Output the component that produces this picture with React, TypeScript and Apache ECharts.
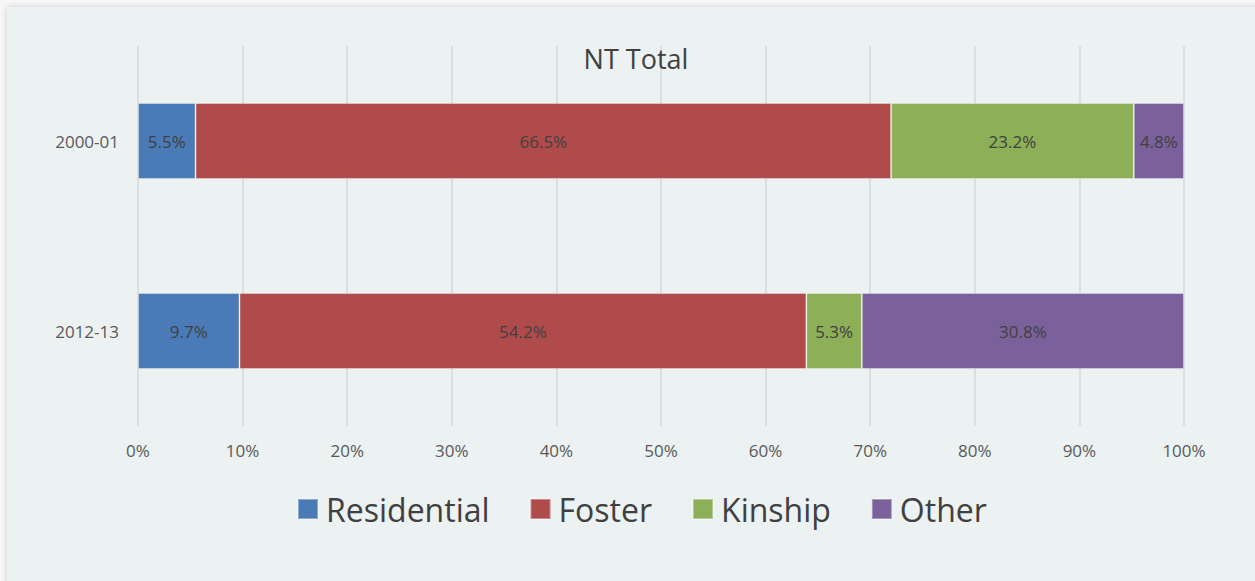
import React, { useEffect, useRef } from "react";
import * as echarts from "echarts";

const categories = ["2000-01", "2012-13"];
const seriesNames = ["Residential", "Foster", "Kinship", "Other"];
const residential = [5.5, 9.7];
const foster = [66.5, 54.2];
const kinship = [23.2, 5.3];
const other = [4.8, 30.8];
const colors = ["#4A7BB6", "#B04B4B", "#8DAF58", "#7A619B"];
const title = "NT Total";

export default function App() {
  const ref = useRef<HTMLDivElement>(null);
  useEffect(() => {
    if (!ref.current) return;
    const chart = echarts.init(ref.current, null, { renderer: "svg" });
    const values = [residential, foster, kinship, other];
    const font = "'Open Sans', 'Noto Sans', sans-serif";
    chart.setOption({
      animation: false,
      backgroundColor: "transparent",
      textStyle: { fontFamily: font },
      title: {
        text: title,
        left: 631,
        textAlign: "center",
        top: 40,
        textStyle: { fontFamily: font, fontSize: 27, fontWeight: "normal", color: "#404040" },
      },
      legend: {
        data: seriesNames,
        left: 292,
        top: 488,
        icon: "rect",
        itemWidth: 20,
        itemHeight: 20,
        itemGap: 40,
        textStyle: { fontFamily: font, fontSize: 32, color: "#404040", padding: [0, 0, 0, 3] },
      },
      grid: { left: 138, right: 71, top: 46, bottom: 155, containLabel: false },
      xAxis: {
        type: "value",
        min: 0,
        max: 100,
        interval: 10,
        axisLabel: {
          formatter: "{value}%",
          color: "#595959",
          fontSize: 17,
          fontFamily: font,
          margin: 16,
        },
        axisLine: { show: false },
        axisTick: { show: false },
        splitLine: { lineStyle: { color: "#D9D9D9", width: 1.5 } },
      },
      yAxis: {
        type: "category",
        data: categories,
        inverse: true,
        axisLabel: { color: "#595959", fontSize: 17, fontFamily: font, margin: 19 },
        axisLine: { show: false },
        axisTick: { show: false },
        splitLine: { show: false },
      },
      series: seriesNames.map((name, i) => ({
        name,
        type: "bar",
        stack: "total",
        barWidth: "40%",
        data: values[i],
        itemStyle: { color: colors[i], borderColor: "rgba(255,255,255,0.35)", borderWidth: 1 },
        label: {
          show: true,
          position: "inside",
          formatter: (p: any) => p.value.toFixed(1) + "%",
          color: "#404040",
          fontSize: 17,
          fontFamily: font,
        },
      })),
    });
    return () => chart.dispose();
  }, []);
  return (
    <div style={{ position: "fixed", left: 0, top: 0, width: 1255, height: 581, background: "#F7F7F7", overflow: "hidden" }}>
      <div
        style={{
          position: "absolute",
          left: 7,
          top: 7,
          width: 1260,
          height: 590,
          background: "#ECF1F1",
          boxShadow: "0 0 6px rgba(0,0,0,0.18)",
        }}
      />
      <div ref={ref} style={{ position: "absolute", left: 0, top: 0, width: 1255, height: 581 }} />
    </div>
  );
}
